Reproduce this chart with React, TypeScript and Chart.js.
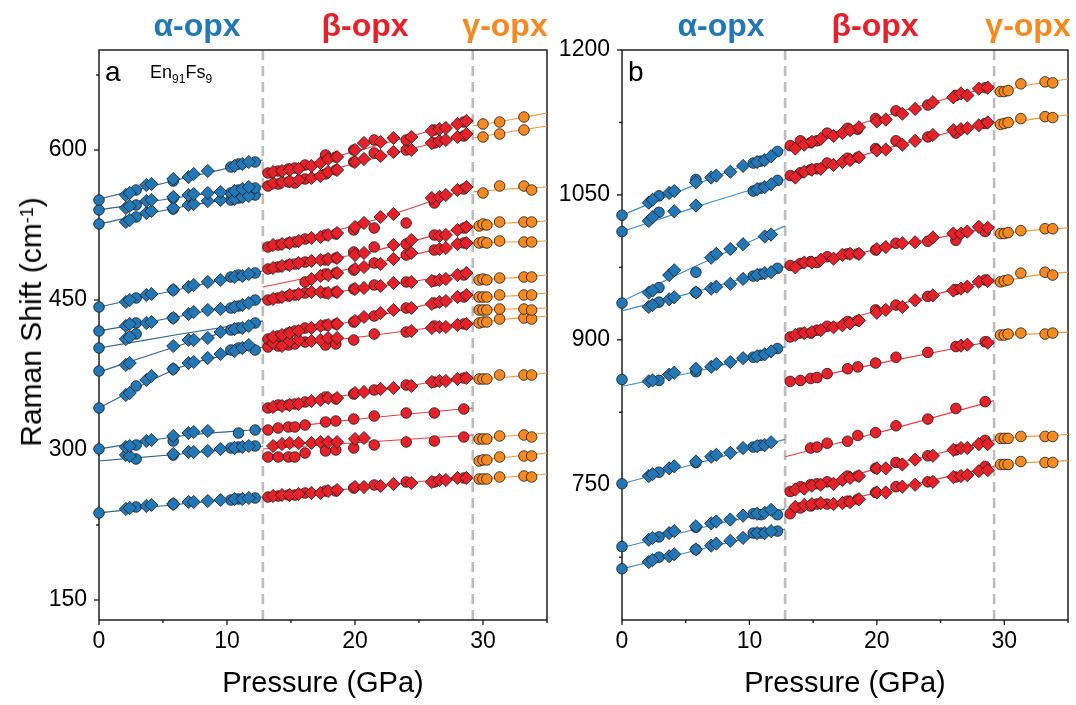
import React, { useEffect, useRef } from "react";
import { Chart, registerables } from "chart.js";
Chart.register(...registerables);

const FONT = '"Liberation Sans", Arial, Helvetica, sans-serif';
const _ = null;

// ---------- pressures (GPa) ----------
const alphaCircleP = [0, 2.9, 5.8, 10.3, 10.9, 12.2];
const alphaDiamondP = [2.1, 2.4, 3.7, 4.1, 5.8, 7.0, 7.4, 8.5, 9.5, 10.6, 11.2, 11.7];
const betaCircleP = [13.2, 14.0, 14.8, 15.3, 16.1, 17.7, 18.5, 19.9, 21.5, 24.0, 26.2, 28.5];
const betaDiamondP = [13.6, 14.3, 14.9, 15.6, 16.6, 17.3, 17.9, 18.6, 20.0, 20.7, 22.0, 23.0, 24.4, 26.0, 26.6, 27.1, 28.0, 28.7];
const gammaP = [29.7, 30.0, 30.3, 31.3, 33.2, 33.8];
const alphaFitP = [0, 6.4, 12.8];
const betaFitP = [12.8, 21, 29.2];
const gammaFitP = [29.2, 32, 35];
const phaseBoundaries = [12.8, 29.2];

// ---------- tick values ----------
const xTicks = [0, 5, 10, 15, 20, 25, 30, 35];
const yTicksA = [150, 225, 300, 375, 450, 525, 600, 675];
const yTicksB = [675, 750, 825, 900, 975, 1050, 1125, 1200];

// ---------- panel a (cm-1) ----------
const aAlphaCircles = [
  [550, 560, 569, 583, 586, 588],
  [540, 545, 552, 557, 560, 562],
  [526, 533, 541, 550, 552, 555],
  [443, 452, 460, 473, 475, 477],
  [419, 427, 432, 442, 444, 450],
  [402, 416, _, _, _, _],
  [379, _, _, 420, 422, 427],
  [342, 364, 381, 400, 402, 400],
  [301, 305, 309, _, 317, 320],
  [_, 291, 295, 302, 303, 304],
  [237, 243, 246, 250, 251, 252],
];
const aAlphaDiamonds = [
  [555, 557, 565, 566, 571, 573, 576, 579, _, 584, 586, 588],
  [542, 544, 549, 550, 553, 555, 556, 557, 558, 559, 561, 563],
  [528, 530, 537, 539, 542, 545, 546, 549, 550, 551, 553, 554],
  [448, 450, 455, 456, 460, 463, 465, 468, 470, 473, 474, 476],
  [424, 426, 427, 428, 432, 436, 438, 440, 441, 443, 445, 447],
  [411, 413, _, _, _, _, _, _, _, _, _, _],
  [385, 387, _, _, 404, 410, 410, 412, 418, 421, 422, 424],
  [355, 357, 370, 374, 381, 387, 388, 392, 396, 399, 402, 405],
  [303, 304, 309, 310, 314, 317, 318, 319, _, _, _, _],
  [295, 294, _, _, 296, 298, 298, 299, 301, 302, 303, 304],
  [241, 242, 244, 245, 246, 248, 248, 249, 250, 251, 251, 252],
];
const aAlphaFits = [
  [551, 571, 590],
  [540, 553, 564],
  [526, 543, 556],
  [443, 461, 479],
  [419, 434, 451],
  [402, 416, 429],
  [378, 405, 429],
  [342, 383, 403],
  [301, 314, 321],
  [289, 296, 304],
  [237, 246, 253],
];
const aBetaCircles = [
  [577, 579, 581, 582, 585, 595, 593, 600, 610, 610, 620, 628],
  [564, 566, 568, 567, 571, 576, 580, 588, 597, 600, 607, 614],
  [503, 505, 507, 508, 511, 515, 516, 520, 522, 527, 547, 561],
  [481, 483, 485, 486, 488, 490, 492, 498, 503, 506, 515, 522],
  [_, _, _, _, 468, 476, 477, 480, 487, 495, 500, 507],
  [450, 452, 454, 455, 457, 457, 458, 461, 465, 468, 469, 475],
  [411, 414, 417, 419, 422, 425, 426, 428, 434, 442, 447, 453],
  [403, 404, 405, 406, 408, 405, 406, 410, 416, 418, 424, 426],
  [342, 345, 345, 346, 348, 353, 351, 356, 360, 365, 368, 372],
  [320, 322, 323, 323, 325, 328, 329, 331, 334, 337, 337, 341],
  [293, 293, 293, 293, 297, 299, 300, 302, 305, 308, 309, 313],
  [253, 254, 255, 255, 257, 259, 259, 262, 265, 268, 268, 272],
];
const aBetaDiamonds = [
  [578, 579, 580, 581, 584, 587, 591, 593, 600, 607, 608, 612, 613, 619, 621, 622, 626, 629],
  [567, 568, 569, 570, 572, 574, 578, 580, 588, 591, 594, 598, 600, 607, 609, 610, 613, 616],
  [505, 506, 507, 509, 512, 513, 515, 517, 523, 527, 533, 536, _, 552, 553, 555, 560, 563],
  [482, 484, 485, 487, 489, 490, 491, 492, 495, 497, _, 505, 510, _, 514, 515, 520, 523],
  [_, _, _, _, 471, 474, 475, 477, 481, 483, 486, 491, 497, _, 501, 502, 506, 507],
  [451, 453, 455, 456, 458, 458, 457, 458, 461, 462, 464, 467, 468, 469, 470, 471, 475, 477],
  [413, 415, 417, 419, 422, 424, 425, 426, 429, 433, 437, 440, 442, 446, 448, 449, 453, 455],
  [407, 404, 409, 410, 409, 410, 412, 412, _, _, _, _, 419, 422, 423, 423, 425, 426],
  [343, 344, 345, 346, 349, 350, 352, 352, 357, 358, 361, 362, 364, 368, 369, 369, 371, 372],
  [_, _, _, _, _, _, _, _, _, _, _, _, _, _, _, _, _, _],
  [304, 306, 307, 307, 307, 308, 308, 308, 311, 312, _, _, _, _, _, _, _, _],
  [254, 255, 255, 256, 257, 257, 259, 260, 263, 263, 264, 266, 267, 268, 270, 270, 272, 272],
];
const aBetaFits = [
  [574, 602, 631],
  [562, 590, 617],
  [502, 528, 563],
  [481, 498, 525],
  [463, 485, 509],
  [450, 462, 478],
  [410, 432, 456],
  [402, 414, 428],
  [342, 358, 374],
  [320, 332, 342],
  [301, 308, 315],
  [252, 263, 274],
];
const aGammaCircles = [
  [_, 626, _, 628, 633, _],
  [_, 613, _, 616, 620, _],
  [_, 557, _, 564, 564, 560],
  [524, 526, 525, 528, 528, 528],
  [507, 508, 507, 509, 508, 508],
  [470, 471, 470, 472, 473, 473],
  [453, 453, 453, 455, 455, 455],
  [440, 440, 440, 441, 441, 440],
  [427, 428, 428, 431, 432, 431],
  [371, 371, 371, 375, 375, 375],
  [311, 311, 311, 314, 315, 313],
  [289, 290, 290, 293, 294, 294],
  [271, 271, 271, 273, 274, 273],
];
const aGammaFits = [
  [624, 630, 637],
  [612, 618, 624],
  [558, 561, 563],
  [524, 527, 529],
  [507, 508, 509],
  [470, 472, 475],
  [452, 454, 457],
  [440, 441, 442],
  [427, 431, 434],
  [371, 373, 377],
  [311, 314, 317],
  [289, 293, 297],
  [270, 273, 276],
];

// ---------- panel b (cm-1) ----------
const bAlphaCircles = [
  [1029, 1049, 1066, 1083, 1085, 1095],
  [1012, 1032, _, 1054, 1057, 1065],
  [938, 954, 970, _, _, _],
  [_, 939, 949, 966, 968, 974],
  [859, 858, 867, 882, 884, 891],
  [751, 763, 773, 789, 791, _],
  [686, 696, 706, 720, 719, 719],
  [663, 675, 683, 700, 700, 702],
];
const bAlphaDiamonds = [
  [1042, 1045, 1052, 1054, 1063, 1068, 1070, 1074, 1080, 1084, 1086, 1090],
  [1023, 1027, _, 1033, 1039, _, _, _, _, 1056, 1058, 1061],
  [949, 951, 967, 972, _, 985, 989, 994, 999, _, 1007, 1009],
  [934, 936, 942, 944, 949, 953, 955, 958, 963, 967, 969, 970],
  [857, 858, 864, 866, 870, 872, 875, 877, 881, 883, 885, 888],
  [759, 761, 767, 769, 774, 779, 781, 783, 788, 790, 791, 794],
  [693, 695, 700, 702, 707, 710, 712, 714, 718, 720, 721, 724],
  [670, 672, 676, 678, 683, 687, 689, 692, 695, 700, 700, 702],
];
const bAlphaFits = [
  [1029, 1064, 1097],
  [1012, 1040, 1066],
  [940, 980, 1018],
  [930, 952, 976],
  [852, 869, 893],
  [751, 774, 797],
  [685, 706, 725],
  [663, 684, 704],
];
const bBetaCircles = [
  [1101, 1106, 1104, 1106, 1114, 1119, 1118, 1129, 1137, 1143, 1153, 1161],
  [1070, 1073, 1076, 1077, 1083, 1088, 1089, 1098, 1106, 1110, 1114, 1124],
  [977, 979, 981, 980, 986, 989, 989, 993, 1000, 1002, 1003, 1012],
  [903, 907, 907, 910, 914, 919, 920, 931, 936, 945, 952, 962],
  [857, 858, 860, 861, 865, 870, 872, 876, 882, 887, 893, 898],
  [_, _, 788, 789, 793, 795, 801, 804, 811, 818, 829, 836],
  [743, 748, 750, 751, 753, 759, 759, 767, 773, 780, 786, 796],
  [720, 726, 728, 730, 730, 733, 735, 742, 748, 753, 758, 769],
];
const bBetaDiamonds = [
  [1098, 1102, 1105, 1108, 1111, 1114, 1117, 1120, 1126, 1128, 1134, 1139, 1146, 1151, 1155, 1153, 1160, 1161],
  [1068, 1074, 1076, 1077, 1081, 1084, 1086, 1089, 1096, 1097, 1102, 1106, 1112, 1117, 1118, 1119, 1122, 1125],
  [975, 980, 980, 983, 984, 988, 989, 989, 994, 996, 1000, 1001, 1006, 1010, 1010, 1012, 1017, 1016],
  [905, 907, 908, 910, 913, 915, 917, 920, 928, 931, 934, 941, 946, 951, 953, 955, 960, 961],
  [_, _, _, _, _, _, _, _, _, _, _, _, _, _, 894, 895, _, 897],
  [_, _, _, _, _, _, _, _, _, _, _, _, _, _, _, _, _, _],
  [745, 746, 749, 750, 751, 755, 757, 759, 767, 767, 771, 776, 780, 786, 788, 788, 792, 792],
  [727, 729, 730, 731, 730, 731, 732, 735, 742, 742, 748, 750, 753, 758, 759, 760, 764, 765],
];
const bBetaFits = [
  [1098, 1133, 1163],
  [1067, 1099, 1126],
  [975, 996, 1017],
  [902, 934, 963],
  [855, 878, 899],
  [779, 807, 837],
  [740, 770, 796],
  [719, 745, 769],
];
const bGammaCircles = [
  [1157, 1157, 1158, 1165, 1167, 1166],
  [1123, 1124, 1125, 1129, 1131, 1130],
  [1010, 1010, 1011, 1013, 1015, 1015],
  [960, 961, 962, 969, 970, 967],
  [905, 905, 906, 907, 906, 907],
  [798, 798, 798, 800, 800, 800],
  [771, 771, 771, 774, 773, 773],
];
const bGammaFits = [
  [1156, 1164, 1170],
  [1122, 1128, 1133],
  [1009, 1013, 1016],
  [958, 966, 970],
  [904, 906, 908],
  [797, 800, 802],
  [770, 773, 775],
];

// ---------- styles ----------
const BLUE = "#2277b6";
const RED = "#e7202a";
const ORANGE = "#f6891f";

type Group = {
  cP: number[]; dP: number[]; circles: (number | null)[][]; diamonds: (number | null)[][];
  fitP: number[]; fits: number[][]; color: string; lineColor: string;
};

function pts(P: number[], V: (number | null)[]) {
  const out: { x: number; y: number }[] = [];
  P.forEach((p, i) => {
    const v = V[i];
    if (v !== null && v !== undefined) out.push({ x: p, y: v });
  });
  return out;
}

function buildDatasets(groups: Group[]) {
  const ds: any[] = [];
  groups.forEach((g) => {
    g.fits.forEach((f) =>
      ds.push({
        type: "line", data: pts(g.fitP, f), borderColor: g.lineColor, borderWidth: 1.2,
        pointRadius: 0, fill: false, cubicInterpolationMode: "monotone", order: 3, clip: false,
      })
    );
  });
  groups.forEach((g) => {
    g.diamonds.forEach((row) =>
      ds.push({
        type: "scatter", data: pts(g.dP, row), pointStyle: "rectRot", pointRadius: 6.6,
        backgroundColor: g.color, borderColor: "#1b1b1b", borderWidth: 0.8, order: 1, clip: false,
      })
    );
    g.circles.forEach((row) =>
      ds.push({
        type: "scatter", data: pts(g.cP, row), pointStyle: "circle", pointRadius: 5.3,
        backgroundColor: g.color, borderColor: "#1b1b1b", borderWidth: 0.8, order: 1, clip: false,
      })
    );
  });
  return ds;
}

const framePlugin = {
  id: "frameTicks",
  beforeDatasetsDraw(chart: any) {
    const { ctx, chartArea } = chart;
    const { left, right, top, bottom } = chartArea;
    const xs = chart.scales.x;
    const ys = chart.scales.y;
    ctx.save();
    // phase boundaries
    ctx.strokeStyle = "#bdbdbd";
    ctx.lineWidth = 2.6;
    ctx.setLineDash([10, 6]);
    phaseBoundaries.forEach((p) => {
      const px = xs.getPixelForValue(p);
      ctx.beginPath();
      ctx.moveTo(px, top);
      ctx.lineTo(px, bottom);
      ctx.stroke();
    });
    ctx.setLineDash([]);
    // frame
    ctx.strokeStyle = "#111";
    ctx.lineWidth = 1.4;
    ctx.strokeRect(left, top, right - left, bottom - top);
    // ticks
    ctx.lineWidth = 1.3;
    xs.ticks.forEach((t: any) => {
      const px = xs.getPixelForValue(t.value);
      const len = t.value % 10 === 0 ? 5 : 3;
      ctx.beginPath();
      ctx.moveTo(px, bottom);
      ctx.lineTo(px, bottom + len);
      ctx.stroke();
    });
    ys.ticks.forEach((t: any) => {
      const py = ys.getPixelForValue(t.value);
      const len = t.value % 150 === 0 ? 5 : 3;
      ctx.beginPath();
      ctx.moveTo(left, py);
      ctx.lineTo(left - len, py);
      ctx.stroke();
    });
    ctx.restore();
  },
};

function makeConfig(opts: {
  groups: Group[]; yMin: number; yMax: number; yTicks: number[]; yWidth: number; padRight: number;
}): any {
  return {
    type: "scatter",
    data: { datasets: buildDatasets(opts.groups) },
    options: {
      animation: false,
      responsive: false,
      events: [],
      layout: { padding: { left: 0, right: opts.padRight, top: 50, bottom: 0 } },
      plugins: { legend: { display: false }, tooltip: { enabled: false }, title: { display: false } },
      scales: {
        x: {
          type: "linear",
          min: 0,
          max: 35,
          afterBuildTicks: (s: any) => { s.ticks = xTicks.map((v) => ({ value: v })); },
          afterFit: (s: any) => { s.height = 85; },
          grid: { display: false, drawTicks: false },
          border: { display: false },
          ticks: {
            autoSkip: false, maxRotation: 0, padding: 8, color: "#000",
            font: { family: FONT, size: 23 },
            callback: (v: any) => (Number(v) % 10 === 0 ? String(v) : ""),
          },
          title: {
            display: true, text: "Pressure (GPa)", color: "#000",
            font: { family: FONT, size: 29 }, padding: { top: 0, bottom: 4 },
          },
        },
        y: {
          type: "linear",
          min: opts.yMin,
          max: opts.yMax,
          afterBuildTicks: (s: any) => { s.ticks = opts.yTicks.map((v) => ({ value: v })); },
          afterFit: (s: any) => { s.width = opts.yWidth; },
          grid: { display: false, drawTicks: false },
          border: { display: false },
          ticks: {
            autoSkip: false, padding: 12, color: "#000",
            font: { family: FONT, size: 23 },
            callback: (v: any) => (Number(v) % 150 === 0 ? String(v) : ""),
          },
          title: { display: false },
        },
      },
    },
    plugins: [framePlugin],
  };
}

const panelAGroups: Group[] = [
  { cP: alphaCircleP, dP: alphaDiamondP, circles: aAlphaCircles, diamonds: aAlphaDiamonds, fitP: alphaFitP, fits: aAlphaFits, color: BLUE, lineColor: "#35648f" },
  { cP: betaCircleP, dP: betaDiamondP, circles: aBetaCircles, diamonds: aBetaDiamonds, fitP: betaFitP, fits: aBetaFits, color: RED, lineColor: "#ee3d44" },
  { cP: gammaP, dP: [], circles: aGammaCircles, diamonds: [], fitP: gammaFitP, fits: aGammaFits, color: ORANGE, lineColor: "#f7993c" },
];
const panelBGroups: Group[] = [
  { cP: alphaCircleP, dP: alphaDiamondP, circles: bAlphaCircles, diamonds: bAlphaDiamonds, fitP: alphaFitP, fits: bAlphaFits, color: BLUE, lineColor: "#3d8ed2" },
  { cP: betaCircleP, dP: betaDiamondP, circles: bBetaCircles, diamonds: bBetaDiamonds, fitP: betaFitP, fits: bBetaFits, color: RED, lineColor: "#ee3d44" },
  { cP: gammaP, dP: [], circles: bGammaCircles, diamonds: [], fitP: gammaFitP, fits: bGammaFits, color: ORANGE, lineColor: "#f7993c" },
];

const phaseLabelStyle = (x: number, color: string): React.CSSProperties => ({
  position: "absolute", left: x, top: 9, transform: "translateX(-50%)", color,
  font: `bold 32px ${FONT}`, lineHeight: "32px", whiteSpace: "nowrap",
});

export default function App() {
  const refA = useRef<HTMLCanvasElement>(null);
  const refB = useRef<HTMLCanvasElement>(null);
  useEffect(() => {
    const ca = new Chart(refA.current as HTMLCanvasElement, makeConfig({
      groups: panelAGroups, yMin: 130, yMax: 700, yTicks: yTicksA, yWidth: 99, padRight: 13,
    }));
    const cb = new Chart(refB.current as HTMLCanvasElement, makeConfig({
      groups: panelBGroups, yMin: 610, yMax: 1200, yTicks: yTicksB, yWidth: 62, padRight: 6,
    }));
    return () => { ca.destroy(); cb.destroy(); };
  }, []);
  return (
    <div style={{ position: "fixed", left: 0, top: 0, width: 1076, height: 705, background: "#fff", overflow: "hidden", fontFamily: FONT }}>
      <canvas ref={refA} width={560} height={705} style={{ position: "absolute", left: 0, top: 0 }} />
      <canvas ref={refB} width={516} height={705} style={{ position: "absolute", left: 560, top: 0 }} />
      <div style={phaseLabelStyle(197, BLUE)}>α-opx</div>
      <div style={phaseLabelStyle(365, RED)}>β-opx</div>
      <div style={phaseLabelStyle(505, ORANGE)}>γ-opx</div>
      <div style={phaseLabelStyle(721, BLUE)}>α-opx</div>
      <div style={phaseLabelStyle(875, RED)}>β-opx</div>
      <div style={phaseLabelStyle(1028, ORANGE)}>γ-opx</div>
      <div style={{
        position: "absolute", left: 31, top: 322, transform: "translate(-50%, -50%) rotate(-90deg)",
        font: `30px ${FONT}`, lineHeight: "34px", color: "#000", whiteSpace: "nowrap",
      }}>
        Raman Shift (cm<sup style={{ fontSize: 18, verticalAlign: "top", position: "relative", top: -4 }}>-1</sup>)
      </div>
      <div style={{ position: "absolute", left: 105, top: 58, font: `28px ${FONT}`, lineHeight: "28px", color: "#000" }}>a</div>
      <div style={{ position: "absolute", left: 628, top: 58, font: `28px ${FONT}`, lineHeight: "28px", color: "#000" }}>b</div>
      <div style={{ position: "absolute", left: 150, top: 63, font: `18px ${FONT}`, lineHeight: "18px", color: "#000", whiteSpace: "nowrap" }}>
        En<sub style={{ fontSize: 12 }}>91</sub>Fs<sub style={{ fontSize: 12 }}>9</sub>
      </div>
    </div>
  );
}
